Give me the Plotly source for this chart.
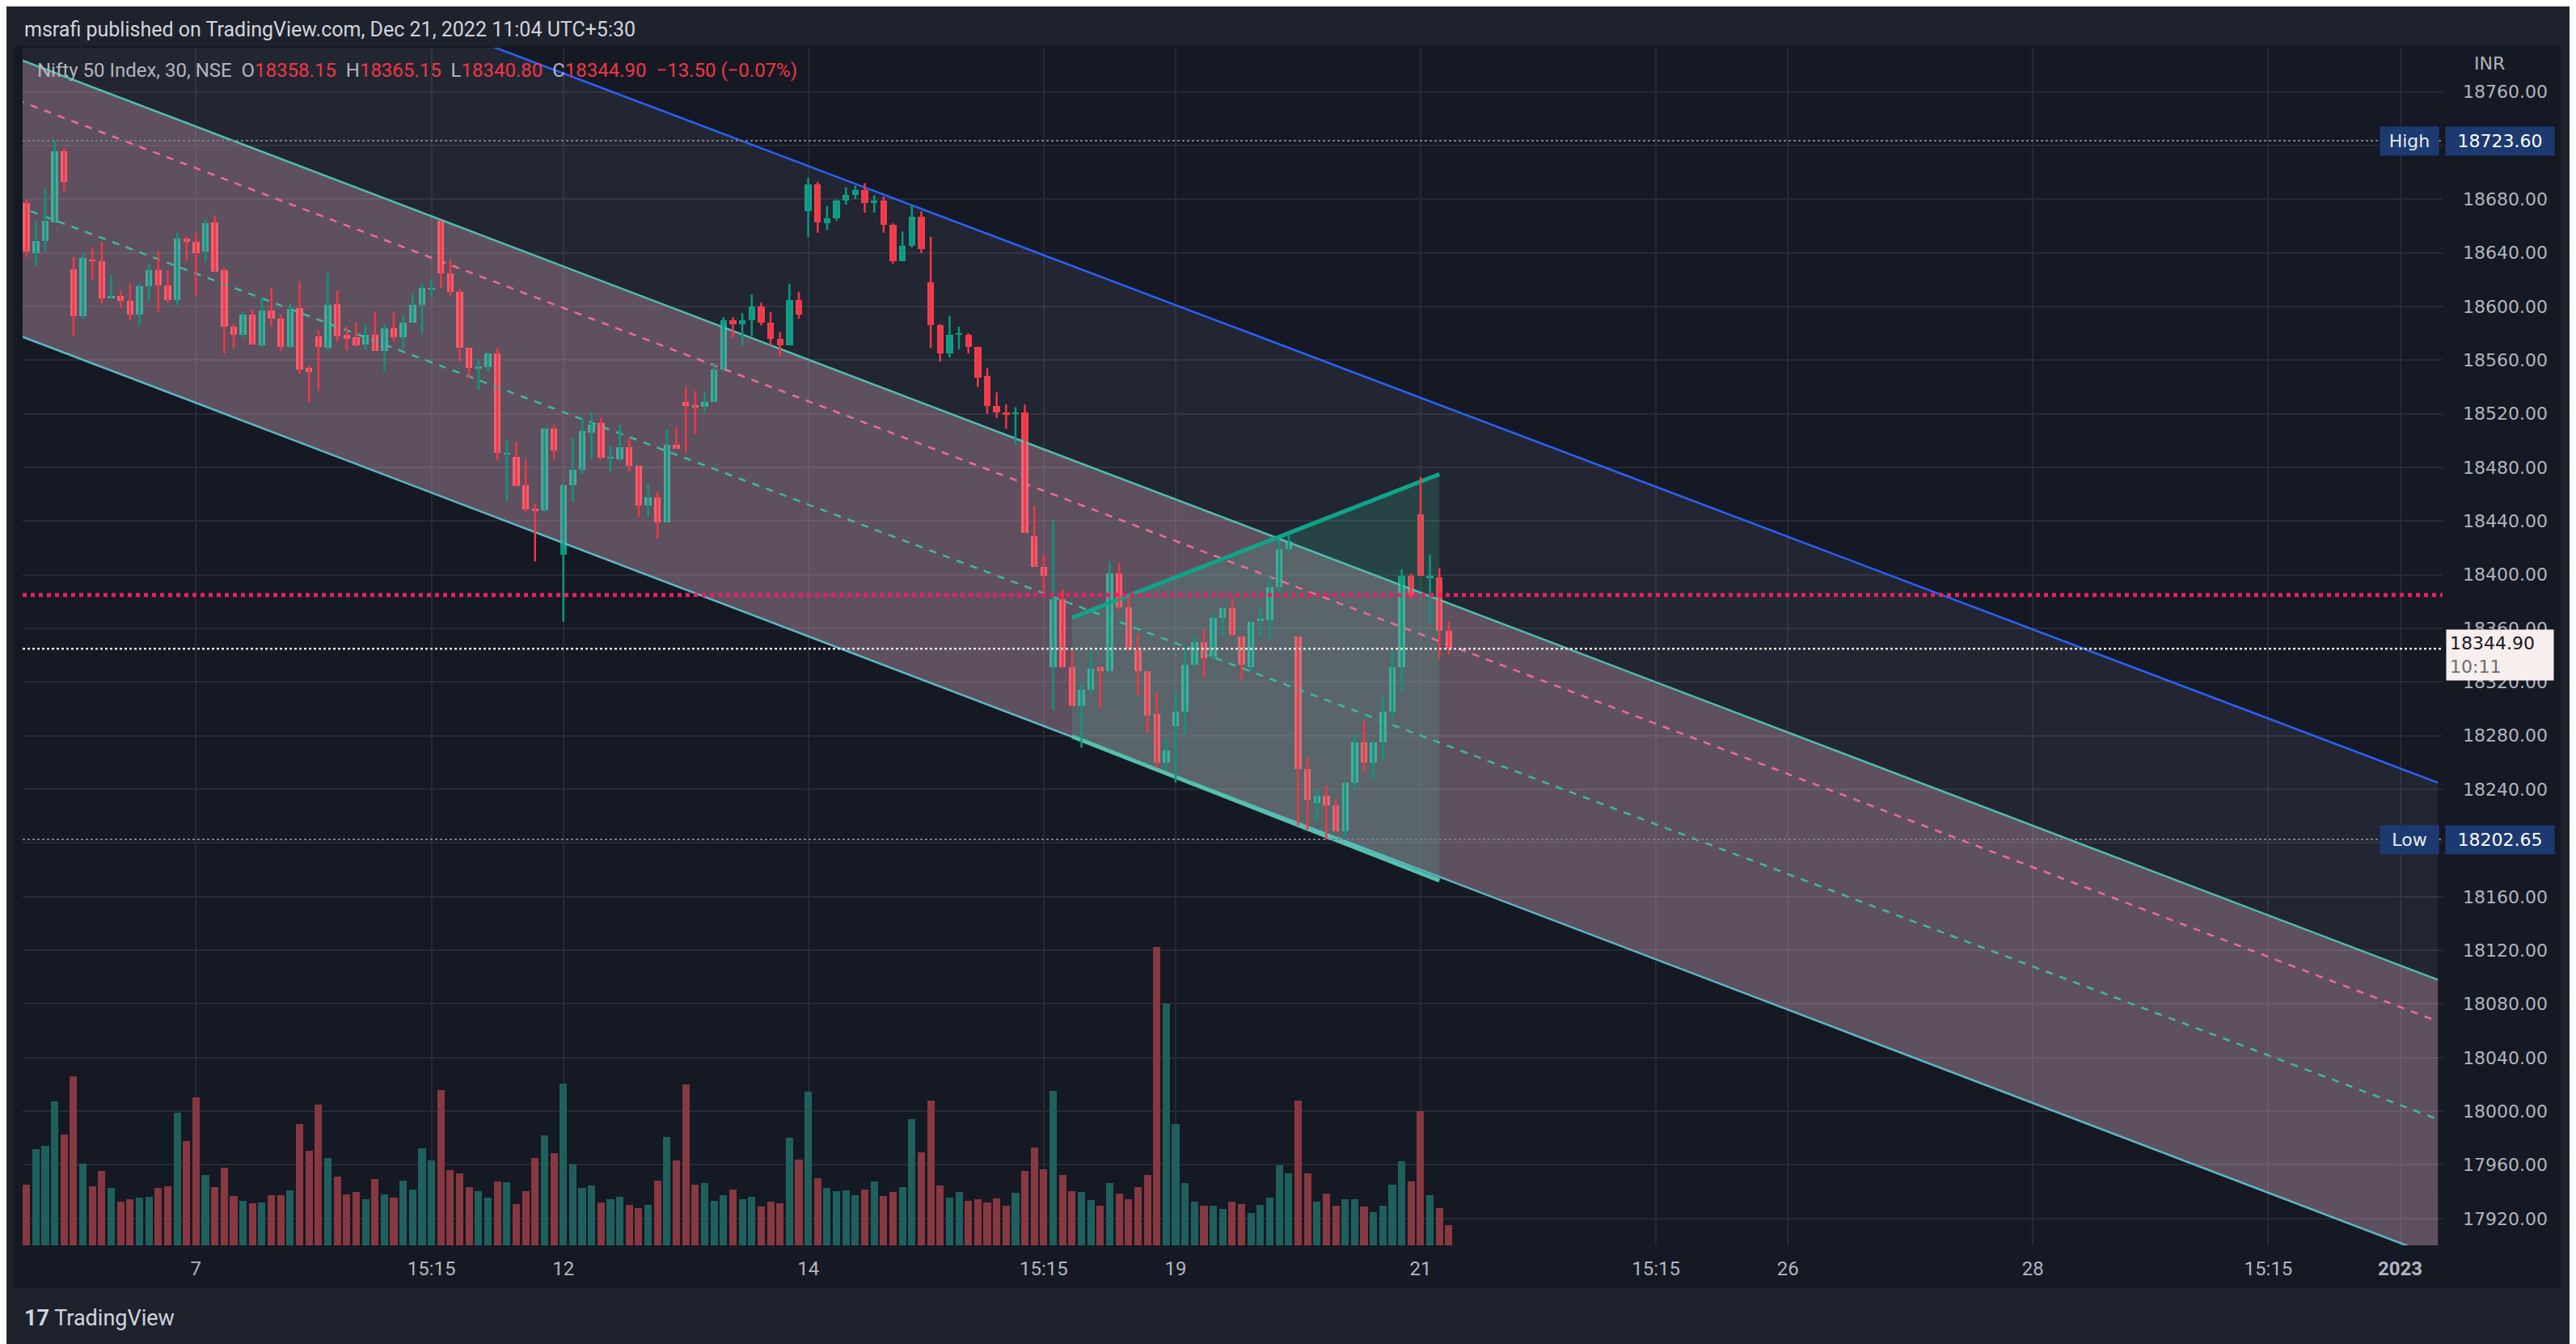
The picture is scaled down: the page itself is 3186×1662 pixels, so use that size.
import plotly.graph_objects as go

# 30-minute candles, Nifty 50 (Dec 5 14:45 .. Dec 21 10:45), bar index starts at 7
opens = [18697, 18677, 18640, 18649, 18663, 18716, 18628, 18593, 18635, 18634, 18606, 18608, 18604, 18594, 18615,
         18627, 18616, 18605, 18651, 18648, 18641, 18663, 18627, 18585, 18579, 18594, 18571, 18597, 18591, 18570,
         18599, 18554, 18578, 18569, 18602, 18579, 18577, 18572, 18579, 18567, 18584, 18577, 18588, 18601, 18613,
         18664, 18625, 18611, 18569, 18554, 18555, 18565, 18490, 18488, 18467, 18449, 18448, 18509, 18415, 18467,
         18478, 18506, 18513, 18487, 18486, 18495, 18481, 18452, 18458, 18439, 18497, 18529, 18526, 18525, 18529,
         18553, 18590, 18587, 18590, 18600, 18588, 18576, 18571, 18605, 18671, 18691, 18662, 18666, 18679, 18683,
         18687, 18677, 18679, 18661, 18634, 18645, 18667, 18618, 18586, 18565, 18579, 18579, 18570, 18548, 18526,
         18521, 18520, 18521, 18429, 18406, 18331, 18382, 18331, 18302, 18314, 18331, 18328, 18401, 18376, 18344,
         18328, 18296, 18260, 18287, 18298, 18333, 18350, 18339, 18368, 18375, 18354, 18331, 18366, 18366, 18391,
         18419, 18354, 18255, 18230, 18235, 18228, 18209, 18245, 18275, 18260, 18275, 18298, 18331, 18399, 18445,
         18398, 18398, 18358.15]
highs = [18700, 18680, 18664, 18688, 18723.6, 18718, 18637, 18639, 18644, 18648, 18624, 18612, 18617, 18617, 18632,
         18641, 18627, 18655, 18652, 18655, 18665, 18668, 18629, 18587, 18596, 18598, 18607, 18614, 18594, 18602,
         18619, 18556, 18582, 18625, 18612, 18585, 18588, 18586, 18596, 18587, 18596, 18594, 18610, 18617, 18620,
         18664, 18635, 18613, 18569, 18561, 18566, 18569, 18500, 18499, 18486, 18453, 18510, 18512, 18468, 18502,
         18517, 18521, 18517, 18496, 18512, 18502, 18481, 18468, 18462, 18508, 18510, 18540, 18537, 18536, 18558,
         18592, 18592, 18595, 18609, 18603, 18596, 18581, 18617, 18611, 18696, 18693, 18675, 18680, 18689, 18690,
         18692, 18683, 18682, 18662, 18656, 18676, 18671, 18652, 18587, 18593, 18585, 18580, 18570, 18554, 18536,
         18527, 18525, 18527, 18451, 18415, 18441, 18389, 18344, 18318, 18343, 18332, 18410, 18409, 18384, 18356,
         18328, 18313, 18278, 18312, 18346, 18354, 18359, 18371, 18375, 18383, 18354, 18365, 18375, 18399, 18426,
         18431, 18354, 18264, 18240, 18243, 18233, 18246, 18281, 18291, 18276, 18309, 18344, 18404, 18401, 18473,
         18415, 18405, 18365.15]
lows = [18677, 18637, 18630, 18641, 18663, 18686, 18578, 18591, 18620, 18602, 18606, 18599, 18590, 18586, 18604,
        18596, 18603, 18601, 18634, 18608, 18633, 18626, 18565, 18569, 18577, 18572, 18570, 18585, 18567, 18569,
        18550, 18529, 18537, 18567, 18574, 18567, 18570, 18568, 18567, 18552, 18574, 18569, 18588, 18579, 18607,
        18614, 18608, 18559, 18547, 18538, 18551, 18485, 18455, 18466, 18447, 18410, 18447, 18486, 18365, 18454,
        18475, 18486, 18486, 18477, 18485, 18477, 18443, 18443, 18427, 18439, 18494, 18491, 18505, 18521, 18529,
        18552, 18577, 18571, 18578, 18586, 18571, 18563, 18571, 18591, 18652, 18655, 18657, 18664, 18676, 18680,
        18670, 18670, 18655, 18632, 18634, 18644, 18640, 18569, 18559, 18562, 18568, 18565, 18540, 18520, 18517,
        18509, 18497, 18431, 18406, 18387, 18299, 18331, 18302, 18271, 18313, 18301, 18328, 18374, 18344, 18310,
        18282, 18256, 18254, 18245, 18281, 18332, 18323, 18336, 18354, 18354, 18322, 18328, 18354, 18352, 18385,
        18416, 18213, 18210, 18217, 18202.65, 18209, 18204, 18240, 18253, 18247, 18262, 18293, 18313, 18382, 18399,
        18364, 18338, 18340.8]
closes = [18677, 18641, 18649, 18664, 18716, 18693, 18593, 18636, 18634, 18606, 18608, 18604, 18594, 18615, 18627,
          18616, 18605, 18651, 18648, 18640, 18662, 18626, 18585, 18579, 18594, 18572, 18597, 18591, 18570, 18598,
          18553, 18551, 18570, 18601, 18578, 18576, 18571, 18579, 18567, 18584, 18577, 18588, 18601, 18614, 18614,
          18625, 18611, 18569, 18554, 18555, 18565, 18491, 18491, 18466, 18449, 18448, 18509, 18493, 18467, 18478,
          18507, 18512, 18487, 18488, 18495, 18481, 18452, 18458, 18439, 18497, 18494, 18526, 18525, 18529, 18553,
          18590, 18587, 18590, 18600, 18588, 18576, 18571, 18605, 18594, 18691, 18663, 18666, 18679, 18683, 18687,
          18677, 18679, 18661, 18634, 18645, 18667, 18643, 18586, 18565, 18579, 18579, 18570, 18547, 18526, 18521,
          18519, 18521, 18431, 18406, 18399, 18382, 18331, 18302, 18314, 18330, 18328, 18401, 18376, 18344, 18328,
          18295, 18260, 18269, 18298, 18333, 18350, 18338, 18368, 18375, 18355, 18333, 18365, 18367, 18391, 18419,
          18425, 18255, 18232, 18235, 18228, 18209, 18245, 18275, 18260, 18275, 18298, 18331, 18399, 18385, 18399,
          18399, 18358, 18344.9]
volume = [273, 225, 357, 369, 534, 411, 627, 303, 219, 276, 213, 162, 171, 177, 180, 213, 219, 492, 387, 549,
          261, 216, 288, 183, 165, 156, 159, 186, 186, 204, 450, 351, 522, 324, 255, 189, 198, 171, 246, 189,
          177, 240, 207, 360, 315, 576, 279, 267, 216, 201, 177, 237, 234, 153, 201, 324, 408, 342, 600, 300,
          213, 222, 159, 171, 180, 150, 138, 150, 240, 402, 315, 597, 225, 231, 165, 186, 207, 171, 180, 144,
          162, 156, 399, 318, 570, 249, 213, 201, 204, 186, 207, 237, 183, 198, 216, 468, 345, 537, 222, 177,
          198, 165, 171, 159, 174, 147, 195, 276, 363, 282, 573, 261, 201, 198, 168, 147, 231, 192, 171, 216,
          261, 1107, 897, 450, 231, 162, 147, 147, 135, 162, 153, 120, 150, 177, 297, 267, 537, 267, 162, 192,
          147, 171, 171, 144, 123, 147, 225, 312, 237, 498, 186, 138, 75]

tick_bars = [26, 51, 65, 91, 116, 130, 156, 181, 195, 221, 246, 260]
tick_text = ["7", "15:15", "12", "14", "15:15", "19", "21", "15:15", "26", "28", "15:15", "<b>2023</b>"]

# drawing anchors (bar index, price)
chan_x = [7, 264]
chan_upper = [18785, 18098]
chan_lower = [18579, 17891]
chan_mid = [18675, 17994]
pink_dash = [18754, 18067]
blue_line = [18928, 18245]
wedge_x = [119, 119, 158, 158]
wedge_y = [18279.5, 18368, 18475, 18172]

HIGH, LOW, LAST, RED_LEVEL = 18723.60, 18202.65, 18344.90, 18385

GREEN, RED = "#089981", "#f23645"
TXT = "#b2b5be"

xs = [i + 7 for i in range(len(closes))]
up = [c >= o for o, c in zip(opens, closes)]

fig = go.Figure()

# volume
fig.add_trace(go.Bar(x=xs[:len(volume)], y=volume, yaxis="y2", width=0.78,
                     marker=dict(color=["#1f605e" if u else "#873840" for u in up], line_width=0),
                     hoverinfo="skip"))

# grey band between blue line and channel top
fig.add_trace(go.Scatter(x=chan_x + chan_x[::-1], y=blue_line + chan_upper[::-1], fill="toself",
                         fillcolor="rgba(190,190,220,0.08)", line_width=0, mode="lines", hoverinfo="skip"))
# channel fill
fig.add_trace(go.Scatter(x=chan_x + chan_x[::-1], y=chan_upper + chan_lower[::-1], fill="toself",
                         fillcolor="rgba(228,177,200,0.36)", line_width=0, mode="lines", hoverinfo="skip"))
# wedge fill
fig.add_trace(go.Scatter(x=wedge_x + [wedge_x[0]], y=wedge_y + [wedge_y[0]], fill="toself",
                         fillcolor="rgba(67,186,152,0.2)", line_width=0, mode="lines", hoverinfo="skip"))

for ys, col, dash, w in [(chan_upper, "#4fbdb0", "solid", 2.5), (chan_lower, "#5cb8c8", "solid", 2.5),
                         (chan_mid, "#3fb8a0", "dash", 2.5), (pink_dash, "#ec6d92", "dash", 2.5),
                         (blue_line, "#2962ff", "solid", 2.5)]:
    fig.add_trace(go.Scatter(x=chan_x, y=ys, mode="lines", line=dict(color=col, width=w, dash=dash),
                             hoverinfo="skip"))

fig.add_trace(go.Scatter(x=wedge_x[1:3], y=wedge_y[1:3], mode="lines",
                         line=dict(color="#0fa58a", width=5), hoverinfo="skip"))
fig.add_trace(go.Scatter(x=[wedge_x[0], wedge_x[3]], y=[wedge_y[0], wedge_y[3]], mode="lines",
                         line=dict(color="#55c0ae", width=5), hoverinfo="skip"))

# candles: wicks + bodies
for flag, col in [(True, GREEN), (False, RED)]:
    wx, wy = [], []
    for x, h, l, u in zip(xs, highs, lows, up):
        if u == flag:
            wx += [x, x, None]
            wy += [l, h, None]
    fig.add_trace(go.Scatter(x=wx, y=wy, mode="lines", line=dict(color=col, width=2.5), hoverinfo="skip"))
    bx = [x for x, u in zip(xs, up) if u == flag]
    base = [min(o, c) for o, c, u in zip(opens, closes, up) if u == flag]
    size = [max(abs(c - o), 1.2) for o, c, u in zip(opens, closes, up) if u == flag]
    fig.add_trace(go.Bar(x=bx, y=size, base=base, width=0.72, marker=dict(color=col, line_width=0),
                         hoverinfo="skip"))

shapes = [
    dict(type="rect", xref="paper", yref="paper", x0=-0.0034, x1=1.049, y0=-0.036, y1=1.0015,
         fillcolor="#151924", line_width=0, layer="below"),
]
for lvl, col, w, dash in [(HIGH, "#787b86", 2, "dot"), (LOW, "#787b86", 2, "dot"),
                          (LAST, "#e8e8e8", 2.5, "dot"), (RED_LEVEL, "#e91e63", 5, "dot")]:
    shapes.append(dict(type="line", xref="paper", yref="y", x0=0, x1=1, y0=lvl, y1=lvl,
                       line=dict(color=col, width=w, dash=dash)))

ann = [
    dict(text="msrafi published on TradingView.com, Dec 21, 2022 11:04 UTC+5:30", xref="paper", yref="paper",
         x=0, y=1.0155, xanchor="left", yanchor="middle", showarrow=False,
         font=dict(family="Roboto", size=25, color="#d1d4dc")),
    dict(text=("Nifty 50 Index, 30, NSE  O<span style='color:#f23645'>18358.15</span>  "
               "H<span style='color:#f23645'>18365.15</span>  L<span style='color:#f23645'>18340.80</span>  "
               "C<span style='color:#f23645'>18344.90</span>  <span style='color:#f23645'>\u221213.50 (\u22120.07%)</span>"),
         xref="paper", yref="paper", x=0.0055, y=0.981, xanchor="left", yanchor="middle", showarrow=False,
         font=dict(family="Roboto", size=24, color="#b2b5be")),
    dict(text="INR", xref="paper", yref="paper", x=1.0125, y=0.987, xanchor="left", yanchor="middle",
         showarrow=False, font=dict(family="DejaVu Sans", size=22, color=TXT)),
    dict(text="<b>17</b> TradingView", xref="paper", yref="paper", x=0, y=-0.061, xanchor="left",
         yanchor="middle", showarrow=False, font=dict(family="Roboto", size=27, color="#d1d4dc")),
]
for lvl, name in [(HIGH, "High"), (LOW, "Low")]:
    ann.append(dict(text=name, xref="paper", yref="y", x=0.9862, y=lvl, xanchor="center", yanchor="middle",
                    showarrow=False, bgcolor="#1c3a70", borderpad=5, width=62,
                    font=dict(family="DejaVu Sans", size=22, color="#e8eaf0")))
    ann.append(dict(text=f"{lvl:.2f}", xref="paper", yref="y", x=1.0236, y=lvl, xanchor="center",
                    yanchor="middle", showarrow=False, bgcolor="#1c3a70", borderpad=5, width=124,
                    font=dict(family="DejaVu Sans", size=22, color="#ffffff")))
ann.append(dict(text=f"{LAST:.2f}<br><span style='color:#6a6d78'>10:11</span>", xref="paper", yref="y",
                x=1.0236, y=LAST, xanchor="center", yanchor="middle", yshift=-8, showarrow=False,
                bgcolor="#f9eeee", borderpad=4, width=124, align="left",
                font=dict(family="DejaVu Sans", size=22, color="#131722")))

fig.update_layout(
    width=3186, height=1662,
    margin=dict(l=20, r=173, t=51, b=130),
    paper_bgcolor="#1e222d", plot_bgcolor="#151924",
    showlegend=False, barmode="overlay", bargap=0,
    shapes=shapes, annotations=ann,
    xaxis=dict(range=[7.6, 264.5], tickvals=tick_bars, ticktext=tick_text, showgrid=True,
               gridcolor="#262a36", gridwidth=2, zeroline=False, showline=False, ticks="",
               ticklabelstandoff=12, tickfont=dict(family="Roboto", size=24, color=TXT)),
    yaxis=dict(range=[17900, 18793], dtick=40, tick0=17920, tickformat=".2f", side="right",
               showgrid=True, gridcolor="#262a36", gridwidth=2, zeroline=False, ticks="",
               ticklabelstandoff=24, tickfont=dict(family="DejaVu Sans", size=22, color=TXT)),
    yaxis2=dict(range=[0, 4443], overlaying="y", visible=False),
)

fig.write_html("out.html")
